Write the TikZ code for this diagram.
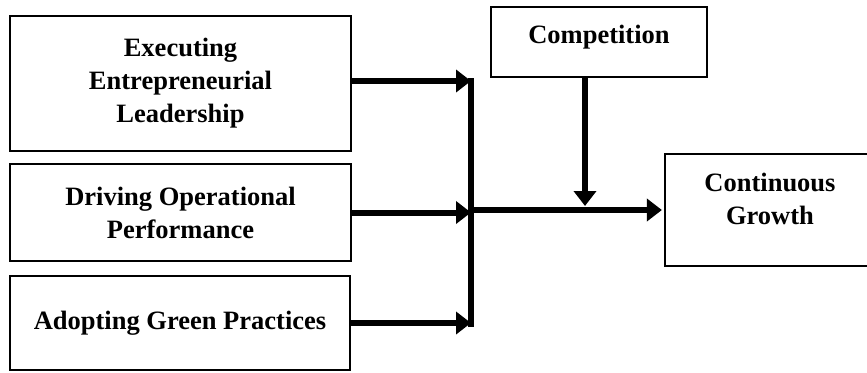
\documentclass[tikz,border=0pt]{standalone}
\usepackage{fontspec}
\setmainfont{Liberation Serif}
\usetikzlibrary{arrows.meta,calc}

\tikzset{
  box/.style={draw=black, line width=2.2pt, rectangle, inner sep=0pt, align=center,
    font=\fontsize{26.5}{33}\selectfont\bfseries},
  frame/.style={draw=black, line width=2.2pt},
  flow/.style={line width=6pt, -{Triangle[length=15pt,width=22pt]}},
  bus/.style={line width=6.5pt, line cap=butt}
}

\begin{document}
\begin{tikzpicture}[x=1pt, y=-1pt]
  \useasboundingbox (0,0) rectangle (867,372);

  % predictor boxes
  \node[box, minimum width=341pt, minimum height=135pt] (ex) at (180.5,83.5)
    {Executing\\Entrepreneurial\\Leadership};
  \node[box, minimum width=341pt, minimum height=97pt] (dr) at (180.5,212.5)
    {Driving Operational\\Performance};
  \node[box, minimum width=340pt, minimum height=94pt] (ad) at (180,323)
    {Adopting Green Practices};

  % moderator
  \node[box, minimum width=216pt, minimum height=70pt, text depth=16pt] (co) at (599,42)
    {Competition};

  % outcome: its frame is open on the right, at the edge of the page
  \node[box, draw=none, minimum width=208pt, minimum height=112pt, text depth=22pt] (cg) at (770,210)
    {Continuous\\Growth};
  \coordinate (cgr) at (867,154);
  \coordinate (cgs) at (867,266);
  \draw[frame] (cgr) -| (cg.west) |- (cgs);

  % collecting bar
  \coordinate (bt) at (471,78);
  \coordinate (bb) at (471,327);
  \draw[bus] (bt) -- (bb);

  % arrow ends on the bar
  \coordinate (j1) at (471,81);
  \coordinate (j2) at (471,212.5);
  \coordinate (j3) at (471,323);
  \coordinate (jo) at (468,210);
  \coordinate (jm) at (585,206);

  \draw[flow] ($(ex.east)+(0,-2.5)$) -- (j1);
  \draw[flow] (dr.east) -- (j2);
  \draw[flow] (ad.east) -- (j3);

  % output and moderating arrows
  \draw[flow, shorten >=3pt] (jo) -- (cg.west);
  \draw[flow] ($(co.south)+(-14,0)$) -- (jm);
\end{tikzpicture}
\end{document}
